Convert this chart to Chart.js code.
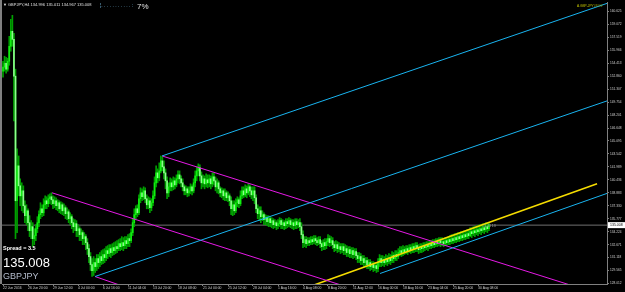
<!DOCTYPE html>
<html><head><meta charset="utf-8">
<script src="https://cdn.jsdelivr.net/npm/chart.js@4.4.1/dist/chart.umd.min.js"></script>
<style>html,body{margin:0;padding:0;background:#000;}canvas{display:block;}</style>
</head><body>
<canvas id="c" width="625" height="292"></canvas>
<script>
const symbol = 'GBPJPY';
const timeframe = 'H4';
const currentPrice = 135.008;
const headerQuote = ['134.996', '135.011', '134.967', '135.008'];
const spreadText = 'Spread = 3.5';
const progressText = '7%';
const cornerText = 'A.GBP-JPY#####';
const rulerText = '+3.43 13';

const xTickIndex = [0,16,32,48,64,80,96,112,128,144,160,176,192,208,224,240,256,272,288,304];
const xTickLabels = ['22 Jun 2016','26 Jun 20:00','29 Jun 12:00','4 Jul 00:00','6 Jul 16:00','11 Jul 04:00','13 Jul 20:00','18 Jul 08:00','21 Jul 00:00','25 Jul 12:00','28 Jul 04:00','1 Aug 16:00','4 Aug 08:00','8 Aug 20:00','11 Aug 12:00','16 Aug 00:00','18 Aug 16:00','23 Aug 04:00','25 Aug 20:00','30 Aug 08:00'];
const yTickValues = [160.625,159.072,157.519,155.966,154.413,152.860,151.307,149.754,148.201,146.648,145.095,143.542,141.989,140.436,138.883,137.330,135.777,134.224,132.671,131.118,129.565,128.012];

const open = [
153.46,153.94,154.41,153.70,154.65,156.44,158.24,157.28,152.86,137.93,
142.11,139.72,138.52,139.12,137.33,136.14,136.73,135.30,134.34,134.82,
133.39,133.75,134.58,135.30,136.26,136.97,136.49,137.45,137.93,137.57,
138.17,138.41,138.05,137.57,137.93,137.33,137.69,136.97,137.45,136.73,
137.09,136.38,136.61,135.78,136.02,135.30,134.82,135.18,134.34,134.58,
133.87,134.11,133.39,133.63,132.91,132.19,131.24,130.28,129.56,130.52,
130.04,131.00,130.52,131.24,130.76,131.48,131.12,131.95,131.60,132.19,
131.72,132.31,131.95,132.43,132.19,132.79,132.43,132.91,132.55,133.15,
132.79,133.39,133.15,134.11,135.30,136.26,136.97,136.49,138.17,138.88,
138.41,139.12,138.17,137.45,137.93,137.09,137.69,138.52,140.08,141.27,
140.68,141.51,142.71,141.99,141.27,140.32,138.88,139.60,140.08,139.60,
140.32,139.84,140.56,141.03,140.56,140.08,139.60,139.12,139.36,138.88,
139.12,139.60,139.12,140.08,140.91,141.51,141.87,140.91,140.08,140.56,
139.96,140.44,140.08,140.56,139.96,140.79,140.32,139.60,140.08,139.36,
138.88,139.12,138.52,138.88,138.29,138.52,137.93,136.97,137.45,136.73,
137.69,138.05,137.57,138.52,139.12,138.64,139.36,138.88,139.60,139.12,
138.64,139.12,138.29,136.97,136.38,136.73,136.02,136.26,135.66,135.90,
135.42,135.78,135.30,135.54,135.06,135.30,134.94,135.18,135.54,135.06,
135.30,134.94,135.42,135.18,135.54,135.06,135.30,134.94,135.42,135.06,
135.30,134.82,133.87,132.91,133.27,132.79,133.15,132.91,133.27,133.03,
133.39,133.15,132.91,133.27,132.79,132.43,132.91,132.55,133.03,133.39,
132.91,133.15,132.67,132.31,132.67,132.19,132.43,132.07,132.43,131.95,
132.19,131.72,132.07,131.60,131.95,131.48,131.83,131.36,131.00,131.24,
130.76,131.00,130.52,130.76,130.28,130.52,130.04,130.28,129.92,130.16,
129.80,130.52,131.00,130.52,130.88,130.52,131.00,130.64,131.12,130.76,
131.36,131.00,131.48,131.24,131.72,131.95,131.72,132.07,131.83,132.19,
131.95,132.31,132.07,132.43,132.19,132.55,132.31,132.07,132.43,132.19,
132.55,132.31,132.67,132.43,132.79,132.55,132.91,132.67,133.03,132.79,
133.15,132.91,133.03,132.79,133.15,132.91,133.27,133.03,133.39,133.15,
133.51,133.27,133.63,133.39,133.75,133.51,133.87,133.63,133.99,133.75,
134.22,133.99,134.34,134.11,134.46,134.22,134.58,134.34,134.70,134.46,134.82,134.58];

const high = [
154.65,155.25,155.13,155.01,157.64,159.67,160.15,158.00,153.70,144.14,
143.30,140.56,140.08,139.72,137.93,137.45,136.97,136.14,135.54,135.30,
134.58,135.06,136.02,136.73,137.69,137.45,138.17,138.52,138.41,138.64,
138.76,138.88,138.52,138.41,138.29,138.05,137.93,137.81,137.69,137.57,
137.33,137.09,136.85,136.49,136.26,135.78,135.66,135.54,135.06,134.82,
134.58,134.34,134.11,133.87,133.39,132.67,131.72,131.00,131.24,131.00,
131.48,131.48,131.72,131.95,132.07,132.19,132.43,132.55,132.67,132.67,
132.79,132.91,133.03,133.15,133.27,133.39,133.63,133.51,133.63,133.63,
133.87,133.99,134.58,135.78,136.97,137.33,137.45,138.64,139.48,139.36,
139.60,139.48,138.64,138.41,138.29,138.17,139.12,140.79,142.11,141.75,
142.47,143.30,143.18,142.71,141.75,140.79,140.08,140.68,140.56,140.79,
140.68,141.03,141.51,141.51,140.91,140.56,139.84,139.72,139.60,139.60,
139.96,139.84,140.56,141.51,141.99,142.35,142.23,141.39,141.03,140.91,
141.15,141.03,141.03,140.91,141.27,141.27,140.79,140.56,140.32,139.60,
139.48,139.36,139.36,139.12,139.00,138.76,138.41,137.93,137.93,138.17,
138.41,138.29,139.12,139.60,139.60,139.84,139.72,139.96,139.84,139.60,
139.60,139.60,138.64,137.45,137.21,137.21,136.73,136.49,136.26,136.14,
136.14,136.02,135.90,135.78,135.66,135.54,135.66,135.90,135.78,135.66,
135.54,135.78,135.78,135.90,135.78,135.66,135.66,135.78,135.78,135.66,
135.78,135.30,134.34,133.63,133.63,133.51,133.51,133.63,133.63,133.75,
133.75,133.51,133.63,133.63,133.15,133.27,133.39,133.39,133.87,133.75,
133.63,133.51,133.03,133.15,133.03,132.91,132.79,132.79,132.79,132.67,
132.55,132.43,132.43,132.31,132.31,132.19,132.19,131.72,131.72,131.60,
131.36,131.36,131.12,131.12,130.88,130.88,130.64,130.64,130.52,130.52,
131.00,131.48,131.36,131.36,131.24,131.48,131.36,131.60,131.48,131.83,
131.72,131.95,131.95,132.19,132.43,132.43,132.55,132.43,132.55,132.55,
132.67,132.67,132.79,132.79,132.91,132.91,132.67,132.79,132.79,132.91,
132.91,133.03,133.03,133.15,133.15,133.27,133.27,133.39,133.39,133.51,
133.51,133.51,133.39,133.51,133.51,133.63,133.75,133.87,133.87,133.99,
133.99,134.11,134.11,134.22,134.22,134.34,134.34,134.46,134.46,134.70,
134.70,134.82,134.82,134.94,134.94,135.06,135.06,135.18,135.18,135.30,135.30,135.30];

const low = [
152.74,153.46,153.22,153.46,154.17,155.85,156.44,147.49,133.39,134.11,
138.52,137.33,136.73,136.49,135.30,135.06,134.34,133.63,133.39,132.43,
132.67,133.15,134.11,134.82,135.78,136.02,136.14,136.97,136.97,137.21,
137.57,137.45,136.97,137.09,136.85,136.73,136.49,136.38,136.26,136.14,
135.78,135.66,135.30,135.06,134.58,134.11,134.34,133.63,133.63,133.15,
133.15,132.67,132.67,132.07,131.48,130.52,129.56,128.85,128.97,129.33,
129.56,129.80,130.04,130.28,130.40,130.52,130.76,131.00,131.24,131.12,
131.36,131.48,131.60,131.72,131.95,131.95,132.07,131.95,132.19,132.19,
132.43,132.43,132.91,133.75,134.82,135.78,136.02,136.26,137.69,137.93,
138.05,137.69,136.97,136.97,136.49,136.73,137.33,138.17,139.60,140.08,
140.32,141.27,141.51,140.56,139.36,138.17,138.41,139.12,139.12,139.24,
139.36,139.60,140.08,139.96,139.60,139.12,138.64,138.64,138.41,138.52,
138.76,138.64,138.88,139.60,140.32,140.91,140.32,139.36,139.60,139.36,
139.60,139.48,139.60,139.36,139.60,139.84,139.12,138.88,138.76,138.41,
138.29,138.05,137.93,137.93,137.81,137.33,136.26,136.14,136.26,136.49,
137.21,137.09,137.33,138.17,138.29,138.41,138.29,138.64,138.41,138.17,
137.93,137.57,136.49,135.78,135.54,135.30,135.54,135.06,135.06,134.94,
134.82,134.82,134.70,134.58,134.70,134.46,134.58,134.82,134.58,134.58,
134.46,134.58,134.70,134.82,134.70,134.58,134.46,134.58,134.58,134.70,
134.34,133.39,132.31,132.43,132.31,132.55,132.55,132.67,132.67,132.79,
132.67,132.55,132.67,132.31,131.95,132.07,132.07,132.19,132.55,132.43,
132.55,132.19,131.83,131.95,131.72,131.83,131.60,131.72,131.48,131.48,
131.24,131.24,131.12,131.12,131.00,131.12,130.88,130.52,130.52,130.28,
130.28,130.04,130.04,129.80,129.80,129.56,129.68,129.44,129.56,129.33,
129.44,130.04,130.04,130.16,130.04,130.28,130.16,130.40,130.28,130.52,
130.52,130.76,130.76,131.00,131.36,131.24,131.36,131.48,131.60,131.48,
131.72,131.60,131.72,131.72,131.83,131.83,131.60,131.72,131.72,131.83,
131.95,132.07,131.95,132.19,132.19,132.31,132.31,132.43,132.43,132.55,
132.43,132.55,132.43,132.55,132.55,132.67,132.67,132.79,132.79,132.91,
132.91,133.03,133.03,133.15,133.15,133.27,133.27,133.39,133.39,133.63,
133.51,133.75,133.63,133.87,133.75,133.99,133.87,134.11,133.99,134.22,134.11,134.34];

const close = [
153.94,154.41,153.70,154.65,156.44,158.24,157.28,152.86,137.93,142.11,
139.72,138.52,139.12,137.33,136.14,136.73,135.30,134.34,134.82,133.39,
133.75,134.58,135.30,136.26,136.97,136.49,137.45,137.93,137.57,138.17,
138.41,138.05,137.57,137.93,137.33,137.69,136.97,137.45,136.73,137.09,
136.38,136.61,135.78,136.02,135.30,134.82,135.18,134.34,134.58,133.87,
134.11,133.39,133.63,132.91,132.19,131.24,130.28,129.56,130.52,130.04,
131.00,130.52,131.24,130.76,131.48,131.12,131.95,131.60,132.19,131.72,
132.31,131.95,132.43,132.19,132.79,132.43,132.91,132.55,133.15,132.79,
133.39,133.15,134.11,135.30,136.26,136.97,136.49,138.17,138.88,138.41,
139.12,138.17,137.45,137.93,137.09,137.69,138.52,140.08,141.27,140.68,
141.51,142.71,141.99,141.27,140.32,138.88,139.60,140.08,139.60,140.32,
139.84,140.56,141.03,140.56,140.08,139.60,139.12,139.36,138.88,139.12,
139.60,139.12,140.08,140.91,141.51,141.87,140.91,140.08,140.56,139.96,
140.44,140.08,140.56,139.96,140.79,140.32,139.60,140.08,139.36,138.88,
139.12,138.52,138.88,138.29,138.52,137.93,136.97,137.45,136.73,137.69,
138.05,137.57,138.52,139.12,138.64,139.36,138.88,139.60,139.12,138.64,
139.12,138.29,136.97,136.38,136.73,136.02,136.26,135.66,135.90,135.42,
135.78,135.30,135.54,135.06,135.30,134.94,135.18,135.54,135.06,135.30,
134.94,135.42,135.18,135.54,135.06,135.30,134.94,135.42,135.06,135.30,
134.82,133.87,132.91,133.27,132.79,133.15,132.91,133.27,133.03,133.39,
133.15,132.91,133.27,132.79,132.43,132.91,132.55,133.03,133.39,132.91,
133.15,132.67,132.31,132.67,132.19,132.43,132.07,132.43,131.95,132.19,
131.72,132.07,131.60,131.95,131.48,131.83,131.36,131.00,131.24,130.76,
131.00,130.52,130.76,130.28,130.52,130.04,130.28,129.92,130.16,129.80,
130.52,131.00,130.52,130.88,130.52,131.00,130.64,131.12,130.76,131.36,
131.00,131.48,131.24,131.72,131.95,131.72,132.07,131.83,132.19,131.95,
132.31,132.07,132.43,132.19,132.55,132.31,132.07,132.43,132.19,132.55,
132.31,132.67,132.43,132.79,132.55,132.91,132.67,133.03,132.79,133.15,
132.91,133.03,132.79,133.15,132.91,133.27,133.03,133.39,133.15,133.51,
133.27,133.63,133.39,133.75,133.51,133.87,133.63,133.99,133.75,134.22,
133.99,134.34,134.11,134.46,134.22,134.58,134.34,134.70,134.46,134.82,134.58,135.008];

// trend lines: [startBar, startPrice, endBar, endPrice]
const cyanLines = [[101.8,143.30,388.5,161.71],[58.9,128.85,388.5,150.02],[241.3,129.21,388.5,138.94]];
const magentaLines = [[31.4,138.88,227.2,127.18],[58.9,128.85,81.3,127.39],[101.8,143.30,382.1,126.70]];
const yellowLines = [[196.5,127.66,380.2,139.96]];

const wickData = open.map((_, i) => ({x: i, y: [low[i], high[i]]}));
const bodyData = open.map((o, i) => ({x: i, y: [o, close[i]]}));

function lineSet(seg, color, width, order) {
  return {type: 'line', data: [{x: seg[0], y: seg[1]}, {x: seg[2], y: seg[3]}],
    borderColor: color, borderWidth: width, pointRadius: 0, fill: false, tension: 0, order: order};
}

const datasets = [];
cyanLines.forEach(s => datasets.push(lineSet(s, '#19b4f0', 1, 0)));
magentaLines.forEach(s => datasets.push(lineSet(s, '#e619e6', 1, 0)));
yellowLines.forEach(s => datasets.push(lineSet(s, '#f5dc00', 1.6, 0)));
datasets.push({type: 'line', data: [{x: -5, y: currentPrice}, {x: 400, y: currentPrice}],
  borderColor: '#707070', borderWidth: 1, pointRadius: 0, order: 5});
datasets.push({type: 'bar', data: bodyData, barThickness: 1, grouped: false, borderWidth: 0, order: 1,
  backgroundColor: ctx => { const i = ctx.dataIndex; return close[i] >= open[i] ? '#10f010' : '#8cff8c'; }});
datasets.push({type: 'bar', data: wickData, barThickness: 1, grouped: false, borderWidth: 0, order: 2,
  backgroundColor: '#00a000'});

const overlay = {
  id: 'overlay',
  beforeDraw(chart) {
    const c = chart.ctx;
    c.save();
    c.fillStyle = '#000';
    c.fillRect(0, 0, chart.width, chart.height);
    c.restore();
  },
  afterDraw(chart) {
    const c = chart.ctx;
    const ys = chart.scales.y;
    c.save();
    c.fillStyle = '#808080';
    c.fillRect(0, 0, 2, chart.chartArea.bottom);
    c.textBaseline = 'middle';
    c.textAlign = 'left';
    c.fillStyle = '#e0e0e0';
    c.font = '4px Arial';
    c.fillText('\u25BC', 3, 5);
    c.fillText(symbol + ',' + timeframe + ' ' + headerQuote.join(' '), 8, 5);
    c.fillStyle = '#7fc8f0';
    c.font = '5px Arial';
    c.fillText('\u00A6. . . . . . . . . . . :', 100, 6);
    c.fillStyle = '#e0e0e0';
    c.font = '8px Arial';
    c.fillText(progressText, 137, 7);
    c.fillStyle = '#c8c800';
    c.font = '3.2px Arial';
    c.fillText(cornerText, 577, 6);
    c.fillStyle = '#a0a0a0';
    c.font = '3.5px Arial';
    c.fillText(rulerText, 482, 226);
    c.fillStyle = '#ffffff';
    c.font = 'bold 5.5px Arial';
    c.fillText(spreadText, 3, 248);
    c.font = '13px Arial';
    c.fillText(currentPrice.toFixed(3), 3, 263);
    c.fillStyle = '#b4bccc';
    c.font = '9px Arial';
    c.fillText(symbol, 3, 277);
    const py = ys.getPixelForValue(currentPrice);
    c.fillStyle = '#ffffff';
    c.fillRect(chart.chartArea.right + 1, py - 3, 18, 6);
    c.fillStyle = '#000000';
    c.font = '3.5px Arial';
    c.fillText(currentPrice.toFixed(3), chart.chartArea.right + 3, py);
    c.restore();
  }
};

new Chart(document.getElementById('c'), {
  type: 'bar',
  data: {datasets: datasets},
  options: {
    responsive: false, animation: false, devicePixelRatio: 1,
    layout: {padding: {left: 2, top: 2, right: 0, bottom: 0}},
    plugins: {legend: {display: false}, tooltip: {enabled: false}},
    scales: {
      x: {type: 'linear', min: -0.64, max: 386.56, offset: false,
        afterBuildTicks: s => { s.ticks = xTickIndex.map(v => ({value: v})); },
        afterFit: s => { s.height = 8; },
        grid: {drawOnChartArea: false, drawTicks: true, tickLength: 2, color: '#808080', offset: false},
        border: {display: true, color: '#808080'},
        ticks: {autoSkip: false, maxRotation: 0, minRotation: 0, align: 'start', padding: 0,
          color: '#d0d0d0', font: {family: 'Arial', size: 3.4}, callback: (v, i) => xTickLabels[i]}},
      y: {type: 'linear', position: 'right', min: 127.953, max: 161.640,
        afterBuildTicks: s => { s.ticks = yTickValues.map(v => ({value: v})); },
        afterFit: s => { s.width = 18; },
        grid: {drawOnChartArea: false, drawTicks: true, tickLength: 2, color: '#808080'},
        border: {display: true, color: '#808080'},
        ticks: {autoSkip: false, padding: 1, color: '#d0d0d0', font: {family: 'Arial', size: 3.2},
          callback: v => v.toFixed(3)}}
    }
  },
  plugins: [overlay]
});
</script>
</body></html>
